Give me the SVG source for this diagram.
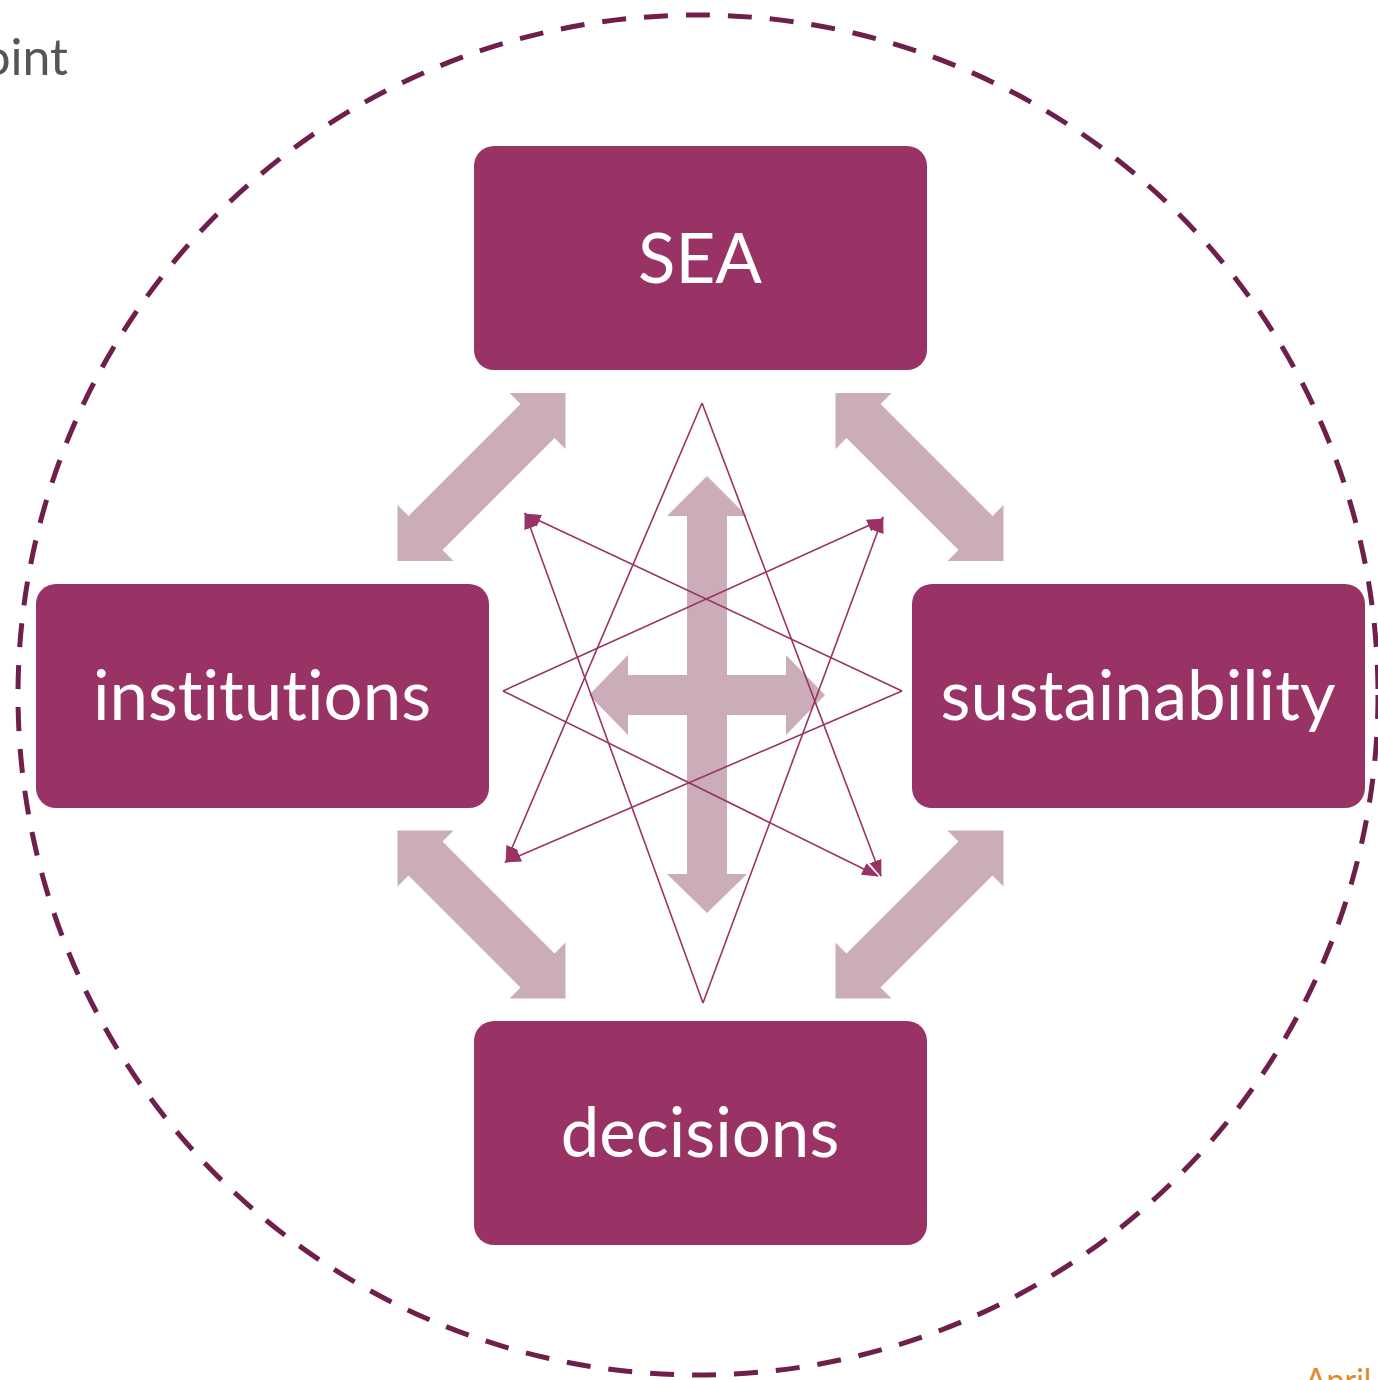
<svg xmlns="http://www.w3.org/2000/svg" width="1378" height="1380" viewBox="0 0 1378 1380">
<defs>
<style>
.box{fill:#993366;}
.lbl{font-family:Lato,"Noto Sans",sans-serif;font-size:69px;fill:#ffffff;text-anchor:middle;font-variant-ligatures:none;}
.big{fill:#cbacb9;}
.thin{fill:none;stroke:#993366;stroke-width:1.6;}
</style>
<marker id="ah" viewBox="0 0 16 12" markerWidth="17" markerHeight="13" markerUnits="userSpaceOnUse" refX="15" refY="6" orient="auto">
<path d="M0,0 L16,6 L0,12 Z" fill="#993366"/>
</marker>
<path id="diag" d="M84,-84 L84,-28 L73,-39 L-39,73 L-28,84 L-84,84 L-84,28 L-73,39 L39,-73 L28,-84 Z"/>
</defs>
<rect width="1378" height="1380" fill="#ffffff"/>
<text x="68" y="75" font-family="Lato,'Noto Sans',sans-serif" font-size="50" fill="#555555" text-anchor="end">oint</text>
<text x="1305" y="1392" font-family="Lato,'Noto Sans',sans-serif" font-size="32" fill="#e08a2c">April</text>
<circle cx="698" cy="695" r="680" fill="none" stroke="#6e1f4c" stroke-width="5" stroke-dasharray="24 18"/>
<g id="connectors">
<use href="#diag" class="big" transform="translate(481.5,477)"/>
<use href="#diag" class="big" transform="translate(919.5,477) scale(-1,1)"/>
<use href="#diag" class="big" transform="translate(481.5,914.5) scale(-1,1)"/>
<use href="#diag" class="big" transform="translate(919.5,914.5)"/>
<path class="big" d="M707,476 L747,516 L727,516 L727,675 L786,675 L786,655 L825,695 L786,735 L786,715 L727,715 L727,874 L747,874 L707,913 L667,874 L687,874 L687,715 L628,715 L628,735 L589,695 L628,655 L628,675 L687,675 L687,516 L667,516 Z"/>
<line class="thin" x1="702" y1="403" x2="506" y2="862" marker-end="url(#ah)"/>
<line class="thin" x1="702" y1="403" x2="881" y2="876" marker-end="url(#ah)"/>
<line class="thin" x1="703" y1="1003" x2="525" y2="513" marker-end="url(#ah)"/>
<line class="thin" x1="703" y1="1003" x2="883" y2="517" marker-end="url(#ah)"/>
<line class="thin" x1="503" y1="691" x2="883" y2="519" marker-end="url(#ah)"/>
<line class="thin" x1="503" y1="691" x2="878" y2="876" marker-end="url(#ah)"/>
<line class="thin" x1="902" y1="691" x2="525" y2="514" marker-end="url(#ah)"/>
<line class="thin" x1="902" y1="691" x2="505" y2="862" marker-end="url(#ah)"/>
</g>
<g id="node-sea">
<rect class="box" x="474" y="146" width="453" height="224" rx="20"/>
<text class="lbl" x="700" y="283">SEA</text>
</g>
<g id="node-institutions">
<rect class="box" x="36" y="584" width="453" height="224" rx="20"/>
<text class="lbl" x="262" y="720">institutions</text>
</g>
<g id="node-sustainability">
<rect class="box" x="912" y="584" width="453" height="224" rx="20"/>
<text class="lbl" x="1138" y="720">sustainability</text>
</g>
<g id="node-decisions">
<rect class="box" x="474" y="1021" width="453" height="224" rx="20"/>
<text class="lbl" x="700" y="1157">decisions</text>
</g>
</svg>
